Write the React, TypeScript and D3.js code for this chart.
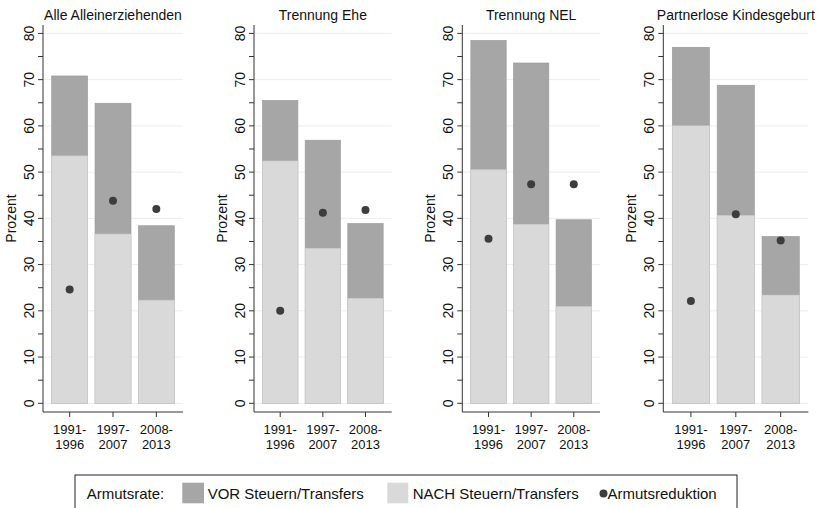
import React from "react";
import * as d3 from "d3";

const panelTitles = ["Alle Alleinerziehenden", "Trennung Ehe", "Trennung NEL", "Partnerlose Kindesgeburt"];
const periods = ["1991-|1996", "1997-|2007", "2008-|2013"];
const vorValues = [
  [70.8, 64.9, 38.4],
  [65.5, 56.9, 38.9],
  [78.5, 73.6, 39.7],
  [77.0, 68.8, 36.1],
];
const nachValues = [
  [53.5, 36.6, 22.3],
  [52.4, 33.5, 22.7],
  [50.5, 38.7, 20.9],
  [60.0, 40.6, 23.4],
];
const reduktionValues = [
  [24.6, 43.8, 42.0],
  [20.0, 41.2, 41.8],
  [35.6, 47.4, 47.4],
  [22.1, 40.9, 35.2],
];
const yMajorTicks = [0, 10, 20, 30, 40, 50, 60, 70, 80];
const yMinorTicks = [5, 15, 25, 35, 45, 55, 65, 75];
const legendLabels = ["Armutsrate:", "VOR Steuern/Transfers", "NACH Steuern/Transfers", "Armutsreduktion"];

const W = 821;
const H = 508;
const panelRanges: [number, number][] = [
  [43, 183],
  [254, 391.7],
  [462.3, 600],
  [663.3, 808.3],
];
const plotTop = 25;
const plotBottom = 412;
const FONT = "'Liberation Sans', Arial, sans-serif";
const VOR_COLOR = "#a6a6a6";
const NACH_COLOR = "#d9d9d9";
const DOT_COLOR = "#3d3d3d";
const AXIS_COLOR = "#333";
const GRID_COLOR = "#ececec";

const y = d3.scaleLinear().domain([0, 80]).range([403.3, 33.4]);

function Panel({ idx }: { idx: number }) {
  const [x0, x1] = panelRanges[idx];
  const x = d3.scaleBand<string>().domain(periods).range([x0, x1]).paddingInner(0.17).paddingOuter(0.2);
  const bw = x.bandwidth();
  return (
    <g>
      {yMajorTicks.map((t) => (
        <line key={"g" + t} x1={x0} x2={x1} y1={y(t)} y2={y(t)} stroke={GRID_COLOR} strokeWidth={1} />
      ))}
      {periods.map((p, i) => (
        <g key={p}>
          <rect x={x(p)} y={y(vorValues[idx][i])} width={bw} height={y(0) - y(vorValues[idx][i])} fill={VOR_COLOR} stroke="#999" strokeWidth={0.6} />
          <rect x={x(p)} y={y(nachValues[idx][i])} width={bw} height={y(0) - y(nachValues[idx][i])} fill={NACH_COLOR} stroke="#cdcdcd" strokeWidth={0.6} />
        </g>
      ))}
      {periods.map((p, i) => (
        <circle key={"d" + p} cx={(x(p) as number) + bw / 2} cy={y(reduktionValues[idx][i])} r={4} fill={DOT_COLOR} />
      ))}
      <line x1={x0} x2={x0} y1={plotTop} y2={plotBottom} stroke={AXIS_COLOR} strokeWidth={1} />
      {[...yMajorTicks, ...yMinorTicks].map((t) => (
        <line key={"t" + t} x1={x0 - 5} x2={x0} y1={y(t)} y2={y(t)} stroke={AXIS_COLOR} strokeWidth={1} />
      ))}
      {yMajorTicks.map((t) => (
        <text key={"l" + t} transform={`translate(${x0 - 9.5},${y(t)}) rotate(-90)`} textAnchor="middle" fontSize={14} fontFamily={FONT} fill="#111">
          {t}
        </text>
      ))}
      <text transform={`translate(${x0 - 27},${(plotTop + plotBottom) / 2}) rotate(-90)`} textAnchor="middle" fontSize={14} fontFamily={FONT} fill="#111">
        Prozent
      </text>
      <line x1={x0} x2={x1} y1={plotBottom} y2={plotBottom} stroke={AXIS_COLOR} strokeWidth={1} />
      {periods.map((p) => {
        const cx = (x(p) as number) + bw / 2;
        const [l1, l2] = p.split("|");
        return (
          <g key={"x" + p}>
            <line x1={cx} x2={cx} y1={plotBottom} y2={plotBottom + 5} stroke={AXIS_COLOR} strokeWidth={1} />
            <text x={cx} y={434} textAnchor="middle" fontSize={13} fontFamily={FONT} fill="#111">{l1}</text>
            <text x={cx} y={449} textAnchor="middle" fontSize={13} fontFamily={FONT} fill="#111">{l2}</text>
          </g>
        );
      })}
      <text x={(x0 + x1) / 2} y={19.5} textAnchor="middle" fontSize={14} fontFamily={FONT} fill="#111">
        {panelTitles[idx]}
      </text>
    </g>
  );
}

export default function App() {
  return (
    <svg width={W} height={H} style={{ position: "absolute", left: 0, top: 0, display: "block", background: "#fff" }}>
      <rect x={0} y={0} width={W} height={H} fill="#fff" />
      {panelTitles.map((_, i) => (
        <Panel key={i} idx={i} />
      ))}
      <g fontFamily={FONT} fontSize={15} fill="#111">
        <rect x={75} y={475} width={662} height={45} fill="#fff" stroke="#222" strokeWidth={1} />
        <text x={86.7} y={499}>{legendLabels[0]}</text>
        <rect x={182.3} y={482.7} width={21.7} height={20.6} fill={VOR_COLOR} />
        <text x={207.7} y={499}>{legendLabels[1]}</text>
        <rect x={387.3} y={482.7} width={21} height={20.6} fill={NACH_COLOR} />
        <text x={412.7} y={499}>{legendLabels[2]}</text>
        <circle cx={603.5} cy={493.5} r={4} fill={DOT_COLOR} />
        <text x={607.5} y={499}>{legendLabels[3]}</text>
      </g>
    </svg>
  );
}
